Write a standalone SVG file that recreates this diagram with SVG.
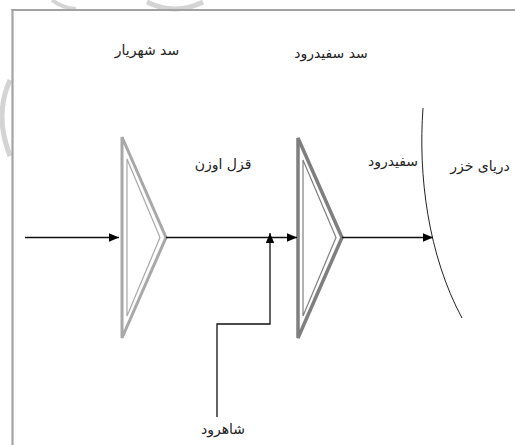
<svg xmlns="http://www.w3.org/2000/svg" width="515" height="445" viewBox="0 0 515 445">
  <style>
    .frame { stroke: #a3a3a3; stroke-width: 2.2; fill: none; }
    .wm { stroke: #d4d4d4; fill: none; }
    .damA { fill: none; stroke: #a8a8a8; stroke-linejoin: miter; }
    .damB { fill: none; stroke: #7f7f7f; stroke-linejoin: miter; }
    .flow { stroke: #111; stroke-width: 1.3; fill: none; }
    .coast { stroke: #222; stroke-width: 1; fill: none; }
    .lbl { font-family: "DejaVu Sans", "Noto Sans", sans-serif; font-size: 14px; fill: #222; text-anchor: middle; }
  </style>
  <defs>
    <marker id="arr" markerUnits="userSpaceOnUse" markerWidth="10" markerHeight="10" viewBox="0 0 10 10" refX="10" refY="5" orient="auto">
      <path d="M0,0.8 L10,5 L0,9.2 Z" fill="#000"/>
    </marker>
  </defs>
  <rect width="515" height="445" fill="#fff"/>
  <g id="watermark">
    <path class="wm" stroke-width="5" d="M147,2 Q175,16 203,2"/>
    <path class="wm" stroke-width="4" d="M52,0 Q62,8 76,9"/>
    <path class="wm" stroke-width="5" d="M10,80 Q-6,115 10,156"/>
  </g>
  <g id="frame">
    <line class="frame" x1="12.5" y1="9" x2="12.5" y2="445"/>
    <line class="frame" x1="11.5" y1="10" x2="515" y2="10"/>
  </g>
  <g id="dam-shahriar">
    <polygon class="damA" stroke-width="3" points="122,137 122,338 166,237.5"/>
    <polygon class="damA" stroke-width="1.2" points="127,159 127,316 160,237.5"/>
    <text class="lbl" x="147" y="55">سد شهریار</text>
  </g>
  <g id="dam-sefidrud">
    <polygon class="damB" stroke-width="3.5" points="298,138 298,338 342,237.5"/>
    <polygon class="damB" stroke-width="1.2" stroke="#9a9a9a" points="303,160 303,316 336,237.5"/>
    <text class="lbl" x="331" y="58">سد سفیدرود</text>
  </g>
  <g id="caspian">
    <path class="coast" d="M423,108 C418,175 428,255 462,318"/>
    <text class="lbl" x="480" y="171">دریای خزر</text>
  </g>
  <g id="labels">
    <text class="lbl" x="223" y="169" font-size="15.5">قزل اوزن</text>
    <text class="lbl" x="393" y="166">سفیدرود</text>
    <text class="lbl" x="223" y="434">شاهرود</text>
  </g>
  <g id="connectors">
    <line class="flow" x1="25" y1="237.5" x2="119" y2="237.5" marker-end="url(#arr)"/>
    <line class="flow" x1="166" y1="237.5" x2="297" y2="237.5" marker-end="url(#arr)"/>
    <polyline class="flow" stroke="#333" points="217,417 217,324 270,324 270,233" marker-end="url(#arr)"/>
    <line class="flow" x1="342" y1="237.5" x2="433" y2="237.5" marker-end="url(#arr)"/>
  </g>
</svg>
